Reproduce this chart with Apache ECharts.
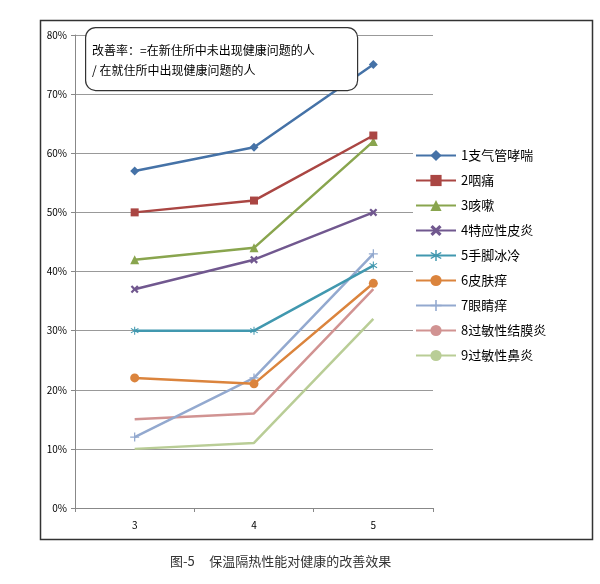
<!DOCTYPE html>
<html><head><meta charset="utf-8">
<script src="https://cdn.jsdelivr.net/npm/echarts@6/dist/echarts.min.js"></script>
<style>body{margin:0;background:#fff}#c{width:600px;height:584px}</style>
</head><body><div id="c"></div>
<script>
const categories = ['3', '4', '5'];
const seriesNames = ['1支气管哮喘', '2咽痛', '3咳嗽', '4特应性皮炎', '5手脚冰冷', '6皮肤痒', '7眼睛痒', '8过敏性结膜炎', '9过敏性鼻炎'];
const s1 = [57, 61, 75];
const s2 = [50, 52, 63];
const s3 = [42, 44, 62];
const s4 = [37, 42, 50];
const s5 = [30, 30, 41];
const s6 = [22, 21, 38];
const s7 = [12, 22, 43];
const s8 = [15, 16, 37];
const s9 = [10, 11, 32];
const yTicks = [0, 10, 20, 30, 40, 50, 60, 70, 80];

const colors = ['#4572A7', '#AA4643', '#89A54E', '#71588F', '#4198AF', '#DB843D', '#93A9CF', '#D19392', '#B9CD96'];
const X = 'path://M0,2L2,0L5,3L8,0L10,2L7,5L10,8L8,10L5,7L2,10L0,8L3,5Z';
const STAR = 'path://M4.4,0H5.6V3.8L9,1.8L9.6,2.8L6.2,5L9.6,7.2L9,8.2L5.6,6.2V10H4.4V6.2L1,8.2L0.4,7.2L3.8,5L0.4,2.8L1,1.8L4.4,3.8Z';
const PLUS = 'path://M4.3,0H5.7V4.3H10V5.7H5.7V10H4.3V5.7H0V4.3H4.3Z';
const symbols = ['diamond', 'rect', 'triangle', X, STAR, 'circle', PLUS, 'none', 'none'];
const sizes = [9, 8, 9, 8, 8, 9, 9, 0, 0];
const data = [s1, s2, s3, s4, s5, s6, s7, s8, s9];

const chart = echarts.init(document.getElementById('c'));
chart.setOption({
  animation: false,
  textStyle: { fontFamily: 'Noto Sans CJK SC' },
  grid: { left: 75, right: 167, top: 35, bottom: 76 },
  legend: {
    orient: 'vertical', left: 413, top: 145, itemGap: 12, itemWidth: 40, itemHeight: 14,
    data: seriesNames,
    textStyle: { fontSize: 13, color: '#000' },
    backgroundColor: '#fff', padding: [4, 4, 4, 2]
  },
  xAxis: {
    type: 'category', data: categories,
    axisLine: { lineStyle: { color: '#888' } },
    axisTick: { show: true, length: 4 },
    axisLabel: { color: '#000', fontSize: 10, margin: 12 }
  },
  yAxis: {
    type: 'value', min: 0, max: 80, interval: 10,
    axisLine: { show: true, lineStyle: { color: '#888' } },
    axisTick: { show: true, length: 4 },
    axisLabel: { color: '#000', fontSize: 10, formatter: v => yTicks.includes(v) ? v + '%' : '' },
    splitLine: { lineStyle: { color: '#999' } }
  },
  series: seriesNames.map((n, i) => ({
    name: n, type: 'line', data: data[i], color: colors[i],
    symbol: symbols[i], symbolSize: sizes[i], showSymbol: symbols[i] !== 'none',
    lineStyle: { width: 2.5 }, z: 10 - i
  })),
  graphic: [
    { type: 'rect', left: 38, top: 18, shape: { width: 552, height: 519 }, style: { fill: 'none', stroke: '#333', lineWidth: 1.5 }, silent: true },
    { type: 'rect', left: 85, top: 27, shape: { width: 272, height: 63, r: 10 }, style: { fill: '#fff', stroke: '#333', lineWidth: 1.2 }, z: 20 },
    { type: 'text', left: 92, top: 40, z: 21, style: { text: '改善率：=在新住所中未出现健康问题的人\n/ 在就住所中出现健康问题的人', fontSize: 12, lineHeight: 20, fill: '#000', fontFamily: 'Noto Sans CJK SC' } },
    { type: 'text', left: 170, top: 555, style: { text: '图-5     保温隔热性能对健康的改善效果', fontSize: 13, fill: '#333', fontFamily: 'Noto Sans CJK SC' } }
  ]
});
</script></body></html>
